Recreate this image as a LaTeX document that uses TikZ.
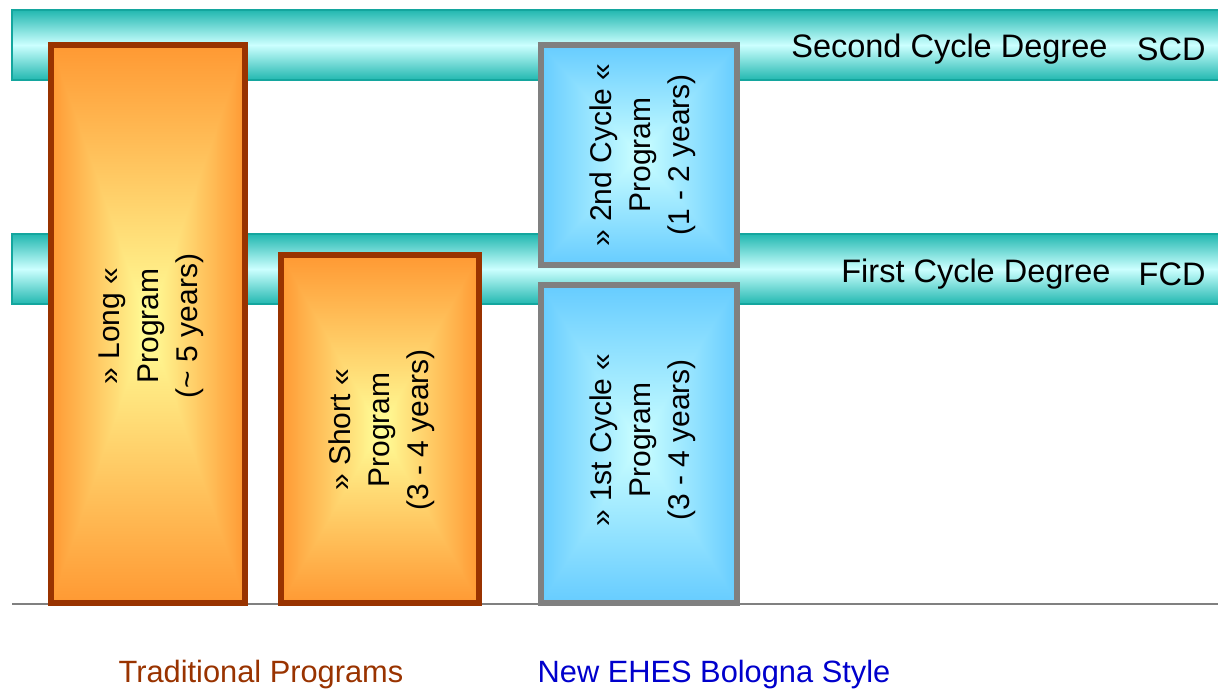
\documentclass[tikz,border=0pt]{standalone}
\usepackage{fontspec}
\setmainfont{Liberation Sans}
\definecolor{teal1}{HTML}{22B8B0}
\definecolor{teal2}{HTML}{CCFFFF}
\definecolor{tealline}{HTML}{14A69E}
\definecolor{orange1}{HTML}{FF9933}
\definecolor{orange2}{HTML}{FFFF99}
\definecolor{brownline}{HTML}{993300}
\definecolor{blue1}{HTML}{66CCFF}
\definecolor{blue2}{HTML}{CCFFFF}
\definecolor{grayline}{HTML}{808080}
\definecolor{bluetext}{HTML}{0000CC}
\newcommand{\pathbox}[7]{%
  \coordinate (m) at ({(#1+#3)/2},{(#2+#4)/2});
  \shade[left color=#5,right color=#5,middle color=#6] (#1,#2) rectangle (#3,#4);
  \shade[top color=#5,bottom color=#6] (#1,#4)--(#3,#4)--(m)--cycle;
  \shade[top color=#6,bottom color=#5] (#1,#2)--(#3,#2)--(m)--cycle;
  \draw[#7,line width=5.5] (#1,#2) rectangle (#3,#4);
}
\tikzset{
  bandtxt/.style={font=\fontsize{32.5}{38}\selectfont,anchor=east},
  boxtxt/.style={font=\fontsize{30}{39}\selectfont,align=center,rotate=90},
  foottxt/.style={font=\fontsize{30.8}{36}\selectfont}
}
\begin{document}
\begin{tikzpicture}[x=1pt,y=1pt]
\useasboundingbox (0,0) rectangle (1218,689);
\shade[top color=teal1,bottom color=teal1,middle color=teal2] (12,609) rectangle (1220,679);
\draw[tealline,line width=1.5] (1220,679)--(12,679)--(12,609)--(1220,609);
\shade[top color=teal1,bottom color=teal1,middle color=teal2] (12,385) rectangle (1220,455);
\draw[tealline,line width=1.5] (1220,455)--(12,455)--(12,385)--(1220,385);
\draw[grayline,line width=1.5] (12,85)--(1218,85);
\pathbox{51}{86}{245}{644}{orange1}{orange2}{brownline}
\pathbox{281}{86}{479}{434}{orange1}{orange2}{brownline}
\pathbox{541}{424}{737}{644}{blue1}{blue2}{grayline}
\pathbox{541}{86}{737}{404}{blue1}{blue2}{grayline}
\node[bandtxt] (scd) at (1111,640) {Second Cycle Degree};
\node[bandtxt] (scdabbr) at (1209,640) {SCD};
\node[bandtxt] (fcd) at (1114,415) {First Cycle Degree};
\node[bandtxt] (fcdabbr) at (1209,415) {FCD};
\node[boxtxt] (long) at (151,363) {» Long «\\Program\\(\textasciitilde{} 5 years)};
\node[boxtxt] (short) at (382,259) {» Short «\\Program\\(3 - 4 years)};
\node[boxtxt] (second) at (643,534) {» 2nd Cycle «\\Program\\(1 - 2 years)};
\node[boxtxt] (first) at (643,249) {» 1st Cycle «\\Program\\(3 - 4 years)};
\node[foottxt,text=brownline] (trad) at (261,14) {Traditional Programs};
\node[foottxt,text=bluetext] (ehes) at (714,14) {New EHES Bologna Style};
\end{tikzpicture}
\end{document}
